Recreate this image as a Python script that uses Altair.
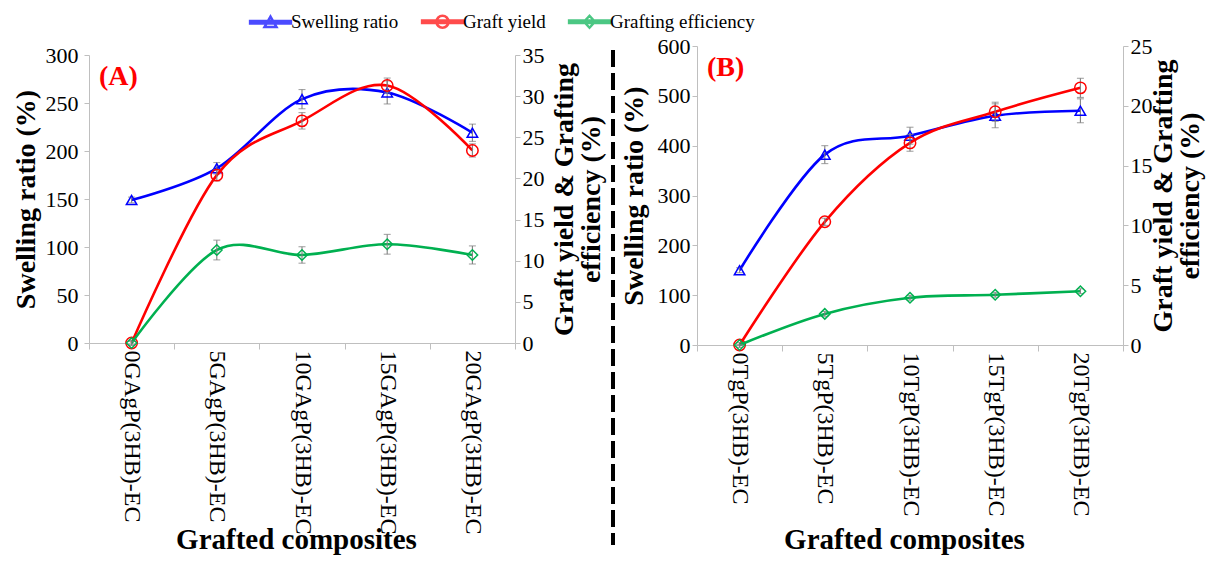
import altair as alt
import pandas as pd

# ---- series definitions -------------------------------------------------
series_names = ["Swelling ratio", "Graft yield", "Grafting efficiency"]
series_colors = ["#0000ff", "#ff0000", "#00b050"]
marker_shapes = ["triangle-up", "circle", "diamond"]
marker_sizes = [110, 130, 110]

# legend glyphs: a thick line segment with the series marker on top
legend_glyphs = [
    "M-3.4,-0.2H3.4V0.2H-3.4Z M0,-0.95L1,0.8H-1Z",
    "M-3.4,-0.2H3.4V0.2H-3.4Z M1,0A1,1,0,1,1,-1,0A1,1,0,1,1,1,0Z",
    "M-3.4,-0.2H3.4V0.2H-3.4Z M0,-1L0.9,0L0,1L-0.9,0Z",
]
panel_labels = ["(A)", "(B)"]

# ---- panel A: GAgP(3HB)-EC composites -----------------------------------
composites_a = ["0GAgP(3HB)-EC", "5GAgP(3HB)-EC", "10GAgP(3HB)-EC",
                "15GAgP(3HB)-EC", "20GAgP(3HB)-EC"]
swelling_a = [149, 182, 254, 261, 219]
swelling_err_a = [3, 6, 10, 12, 9]
graft_yield_a = [0, 20.4, 27.0, 31.3, 23.4]
graft_yield_err_a = [0.3, 0.7, 1.0, 0.9, 0.8]
graft_eff_a = [0, 11.3, 10.7, 12.0, 10.7]
graft_eff_err_a = [0.2, 1.2, 1.0, 1.2, 1.1]

# ---- panel B: TgP(3HB)-EC composites ------------------------------------
composites_b = ["0TgP(3HB)-EC", "5TgP(3HB)-EC", "10TgP(3HB)-EC",
                "15TgP(3HB)-EC", "20TgP(3HB)-EC"]
swelling_b = [150, 382, 420, 460, 470]
swelling_err_b = [5, 18, 17, 24, 24]
graft_yield_b = [0, 10.3, 16.9, 19.5, 21.5]
graft_yield_err_b = [0.2, 0.3, 0.7, 0.8, 0.8]
graft_eff_b = [0, 2.6, 3.95, 4.2, 4.5]
graft_eff_err_b = [0.05, 0.2, 0.2, 0.2, 0.2]

W, H = 426, 299
FONT = "Liberation Serif"
GRID = "#bfbfbf"
ERR = "#7f7f7f"


def long_frame(cats, sw, sw_e, gy, gy_e, ge, ge_e):
    rows = []
    for name, vals, errs in zip(series_names, [sw, gy, ge], [sw_e, gy_e, ge_e]):
        for c, v, e in zip(cats, vals, errs):
            rows.append({"composite": c, "series": name, "value": v,
                         "lo": v - e, "hi": v + e})
    return pd.DataFrame(rows)


def series_marks(frame, idx, x_enc, y_scale, y_axis):
    name = series_names[idx]
    d = alt.Chart(frame).transform_filter(alt.datum.series == name)
    line = d.mark_line(interpolate="cardinal", color=series_colors[idx],
                       strokeWidth=2.6).encode(
        x=x_enc, y=alt.Y("value:Q", scale=y_scale, axis=y_axis))
    err = d.mark_errorbar(color=ERR, thickness=1.1, ticks={"size": 7}).encode(
        x=x_enc, y=alt.Y("lo:Q", scale=y_scale, axis=y_axis), y2="hi:Q")
    pts = d.mark_point(shape=marker_shapes[idx], size=marker_sizes[idx],
                       filled=False, color=series_colors[idx],
                       strokeWidth=1.5, opacity=1).encode(
        x=x_enc, y=alt.Y("value:Q", scale=y_scale, axis=y_axis))
    return [line, err, pts]


def build_panel(frame, cats, sw_dom, sw_ticks, pct_dom, pct_ticks, y_range,
                x_shift, x_title_y, tag, left_pad, right_title_x,
                legend=False, divider=False):
    x_axis = alt.Axis(title="Grafted composites", labelAngle=90,
                      labelFont=FONT, titleFont=FONT, titleFontWeight="bold",
                      labelFontSize=24, labelLimit=300, labelPadding=1,
                      tickSize=6, tickBand="extent", titleFontSize=29,
                      titleX=207, titleY=x_title_y,
                      titleBaseline="alphabetic", offset=x_shift)
    x_enc = alt.X("composite:N", sort=cats, axis=x_axis,
                  scale=alt.Scale(type="band", domain=cats,
                                  paddingInner=0, paddingOuter=0))

    left_scale = alt.Scale(domain=sw_dom, range=y_range, nice=False)
    left_axis = alt.Axis(title="Swelling ratio (%)", values=sw_ticks,
                         labelFont=FONT, titleFont=FONT, titleFontWeight="bold",
                         titleX=-63, titleBaseline="middle", titleAngle=270,
                         titleFontSize=28, labelPadding=left_pad)
    right_scale = alt.Scale(domain=pct_dom, range=y_range, nice=False)
    right_axis = alt.Axis(title=["Graft yield & Grafting", "efficiency (%)"],
                          orient="right", values=pct_ticks,
                          labelFont=FONT, titleFont=FONT,
                          titleFontWeight="bold",
                          titleX=right_title_x, titleBaseline="middle",
                          titleAngle=270, titleFontSize=28,
                          titleLineHeight=27, labelPadding=2)

    left_layers = series_marks(frame, 0, x_enc, left_scale, left_axis)
    right_layers = (series_marks(frame, 1, x_enc, right_scale, right_axis)
                    + series_marks(frame, 2, x_enc, right_scale, right_axis))

    tag_text = alt.Chart(pd.DataFrame({"tag": [tag]})).mark_text(
        font=FONT, fontSize=28, fontWeight="bold",
        color="#ff0000", align="left", baseline="middle").encode(
        text="tag:N", x=alt.value(10), y=alt.value(y_range[1] + 22))
    left_layers.append(tag_text)

    if legend:
        leg = alt.Legend(orient="none", legendX=172, legendY=-34,
                         direction="horizontal", title=None,
                         labelFont=FONT, labelFontSize=19,
                         labelColor="black", labelLimit=300)
        key = alt.Chart(frame).transform_filter("false").mark_point(
            filled=False, strokeWidth=2.5).encode(
            x=x_enc,
            y=alt.Y("value:Q", scale=left_scale, axis=left_axis),
            color=alt.Color("series:N", legend=leg,
                            scale=alt.Scale(domain=series_names,
                                            range=series_colors)),
            shape=alt.Shape("series:N", legend=leg,
                            scale=alt.Scale(domain=series_names,
                                            range=legend_glyphs)),
        )
        left_layers.append(key)

    if divider:
        rule = alt.Chart(pd.DataFrame({"k": [0]})).mark_rule(
            color="black", strokeWidth=4, strokeDash=[17, 6]).encode(
            x=alt.value(-84), y=alt.value(4), y2=alt.value(499))
        left_layers.append(rule)

    return alt.layer(alt.layer(*left_layers), alt.layer(*right_layers)) \
        .resolve_scale(y="independent").properties(width=W, height=H)


frame_a = long_frame(composites_a, swelling_a, swelling_err_a, graft_yield_a,
                     graft_yield_err_a, graft_eff_a, graft_eff_err_a)
frame_b = long_frame(composites_b, swelling_b, swelling_err_b, graft_yield_b,
                     graft_yield_err_b, graft_eff_b, graft_eff_err_b)

panel_a = build_panel(frame_a, composites_a, [0, 300], list(range(0, 301, 50)),
                      [0, 35], list(range(0, 36, 5)), [297, 9], -2, 205,
                      panel_labels[0], 6, 49, legend=True)
panel_b = build_panel(frame_b, composites_b, [0, 600], list(range(0, 601, 100)),
                      [0, 25], list(range(0, 26, 5)), [299, 0], 0, 203,
                      panel_labels[1], 2, 40, divider=True)

chart = alt.hconcat(panel_a, panel_b, spacing=182, bounds="flush").properties(
    padding={"left": 11, "top": 12, "right": 5, "bottom": 5}
).configure(font=FONT).configure_view(stroke="transparent").configure_axis(
    labelColor="black", titleColor="black", labelFontSize=22,
    domainColor=GRID, tickColor=GRID, tickSize=5, grid=False,
).configure_legend(
    labelFont=FONT, labelFontSize=19, labelColor="black",
    symbolSize=144, symbolStrokeWidth=2.5, labelOffset=11,
    columnPadding=18, padding=0,
)

chart.save("out.html", embed_options={"renderer": "svg", "actions": False})
